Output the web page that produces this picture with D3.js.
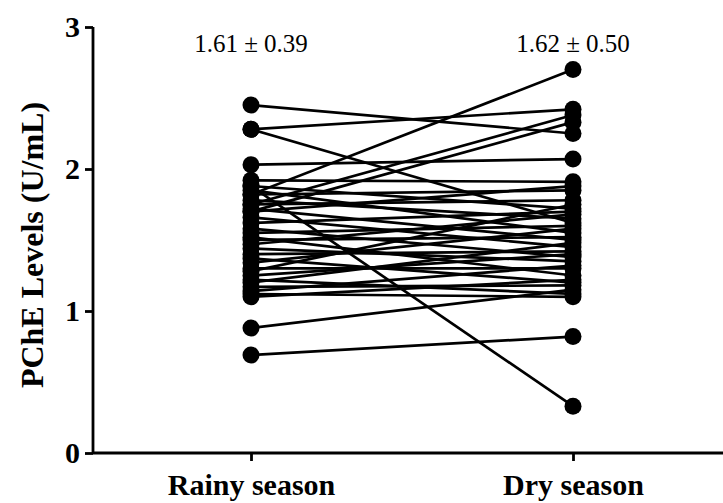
<!DOCTYPE html>
<html><head><meta charset="utf-8">
<script src="https://cdn.jsdelivr.net/npm/d3@7"></script>
<style>body{margin:0;background:#fff}svg{display:block}</style>
</head><body>
<svg id="chart" width="723" height="503"></svg>
<script>
const categories = ["Rainy season", "Dry season"];
const rainy = [2.45, 2.28, 2.28, 2.03, 1.82, 1.75, 1.70, 1.88, 0.88, 0.69,
  1.92, 1.88, 1.85, 1.82, 1.78, 1.75, 1.72, 1.70, 1.66, 1.62,
  1.58, 1.55, 1.52, 1.50, 1.47, 1.44, 1.40, 1.37, 1.34, 1.30,
  1.28, 1.25, 1.22, 1.20, 1.17, 1.14, 1.10, 1.12];
const dry = [2.25, 2.42, 1.62, 2.07, 2.70, 2.38, 2.33, 0.33, 1.15, 0.82,
  1.91, 1.72, 1.55, 1.85, 1.65, 1.78, 1.50, 1.88, 1.45, 1.70,
  1.38, 1.60, 1.25, 1.52, 1.68, 1.35, 1.42, 1.20, 1.58, 1.30,
  1.75, 1.40, 1.12, 1.48, 1.18, 1.32, 1.22, 1.10];
const summaries = ["1.61 \u00b1 0.39", "1.62 \u00b1 0.50"];
const yTicks = [0, 1, 2, 3];

const svg = d3.select("#chart");
const x = d3.scalePoint().domain(categories).range([251, 573]);
const y = d3.scaleLinear().domain([0, 3]).range([453, 27]);

const pairs = rainy.map((r, i) => [r, dry[i]]);
const g = svg.append("g");
g.selectAll("line.pair").data(pairs).join("line")
  .attr("x1", x(categories[0])).attr("x2", x(categories[1]))
  .attr("y1", d => y(d[0])).attr("y2", d => y(d[1]))
  .attr("stroke", "#000").attr("stroke-width", 2.7);
[rainy, dry].forEach((arr, k) => {
  g.selectAll(null).data(arr).join("circle")
    .attr("cx", x(categories[k])).attr("cy", d => y(d)).attr("r", 8.5).attr("fill", "#000");
});

const yAxis = svg.append("g").attr("transform", "translate(93,0)")
  .call(d3.axisLeft(y).tickValues(yTicks).tickFormat(d3.format("d")).tickSize(8).tickPadding(5));
const xAxis = svg.append("g").attr("transform", "translate(0,453)")
  .call(d3.axisBottom(x).tickSize(8).tickPadding(13));
xAxis.select(".domain").attr("d", "M93,0H723");
[yAxis, xAxis].forEach(a => {
  a.selectAll("path,line").attr("stroke", "#000").attr("stroke-width", 2.8);
  a.selectAll("text").attr("font-family", "Liberation Serif").attr("font-weight", "bold")
    .attr("font-size", 30).attr("fill", "#000");
});
yAxis.select(".domain").attr("d", "M0,27V453");

svg.append("text").attr("transform", "translate(43,245) rotate(-90)")
  .attr("text-anchor", "middle").attr("font-family", "Liberation Serif")
  .attr("font-weight", "bold").attr("font-size", 32).text("PChE Levels (U/mL)");

svg.selectAll("text.sum").data(summaries).join("text")
  .attr("x", (d, i) => x(categories[i])).attr("y", 52)
  .attr("text-anchor", "middle").attr("font-family", "Liberation Serif")
  .attr("font-size", 25).text(d => d);
</script>
</body></html>
